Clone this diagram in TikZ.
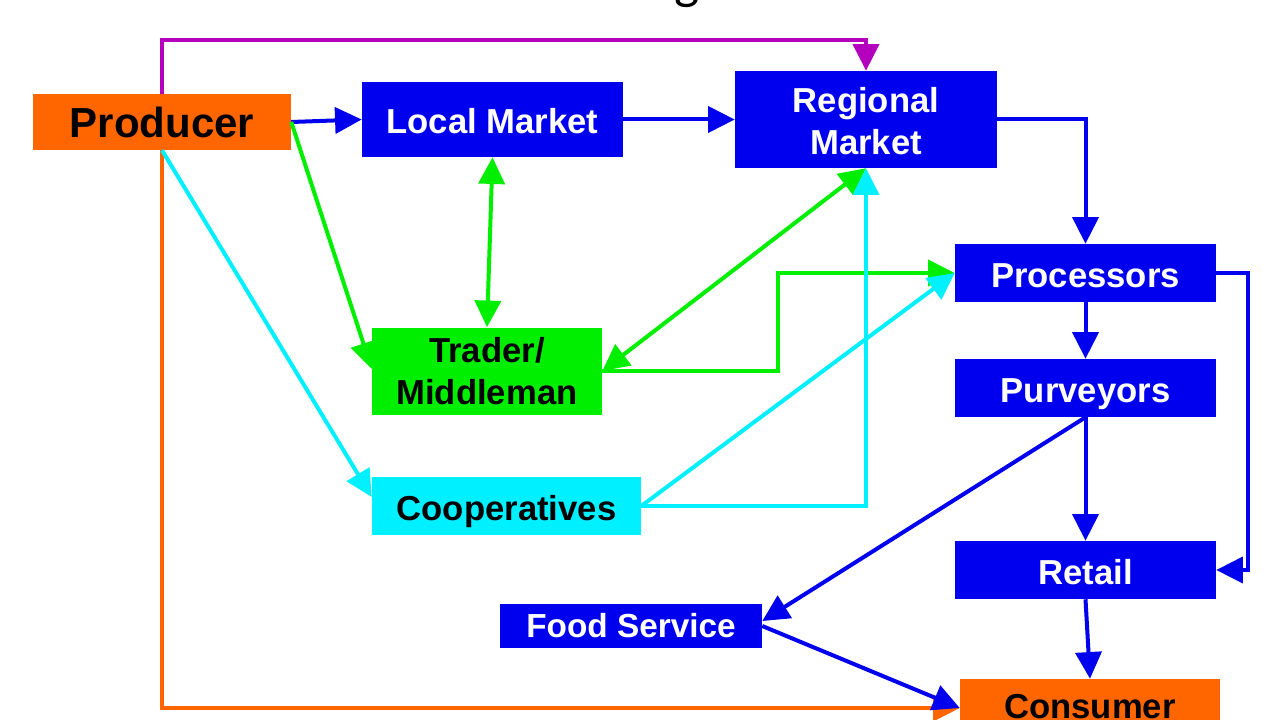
\documentclass[tikz,border=0pt]{standalone}
\usepackage{fontspec}
\setmainfont{Liberation Sans}
\newfontfamily\titlefont{Carlito}
\usetikzlibrary{arrows.meta,calc}
\definecolor{cblue}{RGB}{0,0,238}
\definecolor{cgreen}{RGB}{0,238,0}
\definecolor{ccyan}{RGB}{0,240,255}
\definecolor{corange}{RGB}{255,102,0}
\definecolor{cmag}{RGB}{180,0,190}
\begin{document}
\begin{tikzpicture}[x=0.75pt,y=-0.75pt,
  box/.style={rectangle,inner sep=0pt,align=center,font=\bfseries\fontsize{26}{31.5}\selectfont},
  one/.style={text height=25pt,text depth=3.5pt},
  bluebox/.style={box,fill=cblue,text=white},
  con/.style={line width=3pt,-{Triangle[length=20pt,width=19.5pt]}},
  dcon/.style={line width=3pt,{Triangle[length=20pt,width=19.5pt]}-{Triangle[length=20pt,width=19.5pt]}},
  bl/.style={con,draw=cblue},
  gr/.style={con,draw=cgreen},
  cy/.style={con,draw=ccyan}]
\useasboundingbox (0,0) rectangle (1280,720);
\fill[white] (0,0) rectangle (1280,720);
\node[anchor=base,font=\titlefont\fontsize{40}{46}\selectfont] (title) at (687,-1) {g};
% nodes
\node[box,fill=corange,minimum width=193.5pt,minimum height=42pt,font=\bfseries\fontsize{31.5}{36}\selectfont,text height=28pt,text depth=5.4pt] (prod) at (162,122) {Producer};
\node[bluebox,one,minimum width=195.75pt,minimum height=56.25pt] (local) at (492.5,119.5) {Local Market};
\node[bluebox,minimum width=196.5pt,minimum height=72.75pt] (reg) at (866,119.5) {\rule{0pt}{22pt}Regional\\Market};
\node[bluebox,one,minimum width=195.75pt,minimum height=43.5pt] (proc) at (1085.5,273) {Processors};
\node[bluebox,one,minimum width=195.75pt,minimum height=43.5pt] (purv) at (1085.5,388) {Purveyors};
\node[bluebox,one,minimum width=195.75pt,minimum height=43.5pt] (retail) at (1085.5,570) {Retail};
\node[bluebox,minimum width=196.5pt,minimum height=33pt,font=\bfseries\fontsize{25}{30}\selectfont,text height=22pt,text depth=4.1pt] (food) at (631,626) {Food Service};
\node[box,fill=corange,minimum width=195pt,minimum height=43.5pt,text height=20pt,text depth=5pt] (cons) at (1090,708) {Consumer};
\node[box,fill=cgreen,minimum width=172.5pt,minimum height=65.25pt,font=\bfseries\fontsize{26}{32}\selectfont] (trader) at (487,371) {Trader/\\Middleman};
\node[box,one,fill=ccyan,minimum width=201.75pt,minimum height=43.5pt] (coop) at (506.5,506) {Cooperatives};
% orange and magenta
\draw[con,draw=corange] (prod.south) |- (cons.west);
\draw[con,draw=cmag] (prod.north) -- ++(0,-54) -| (reg.north);
% blue
\draw[bl] (prod.east) -- (local.west);
\draw[bl] (local.east) -- (reg.west);
\draw[bl] (reg.east) -| (proc.north);
\draw[bl] (proc.south) -- (purv.north);
\draw[bl] (proc.east) -- ++(32,0) |- (retail.east);
\draw[bl] (purv.south) -- (retail.north);
\draw[bl] (purv.south) -- ($(food.east)+(0,-5)$);
\draw[bl] (retail.south) -- (cons.north);
\draw[bl] (food.east) -- (cons.west);
% green
\draw[gr] (prod.east) -- ($(trader.west)+(0,-2)$);
\draw[dcon,draw=cgreen] (local.south) -- (trader.north);
\draw[dcon,draw=cgreen] (trader.east) -- (reg.south);
\draw[gr] (trader.east) -- ++(176,0) |- (proc.west);
% cyan
\draw[cy] (prod.south) -- ($(coop.west)+(0,-9)$);
\draw[cy] (coop.east) -| (reg.south);
\draw[cy] (coop.east) -- (proc.west);
\end{tikzpicture}
\end{document}
